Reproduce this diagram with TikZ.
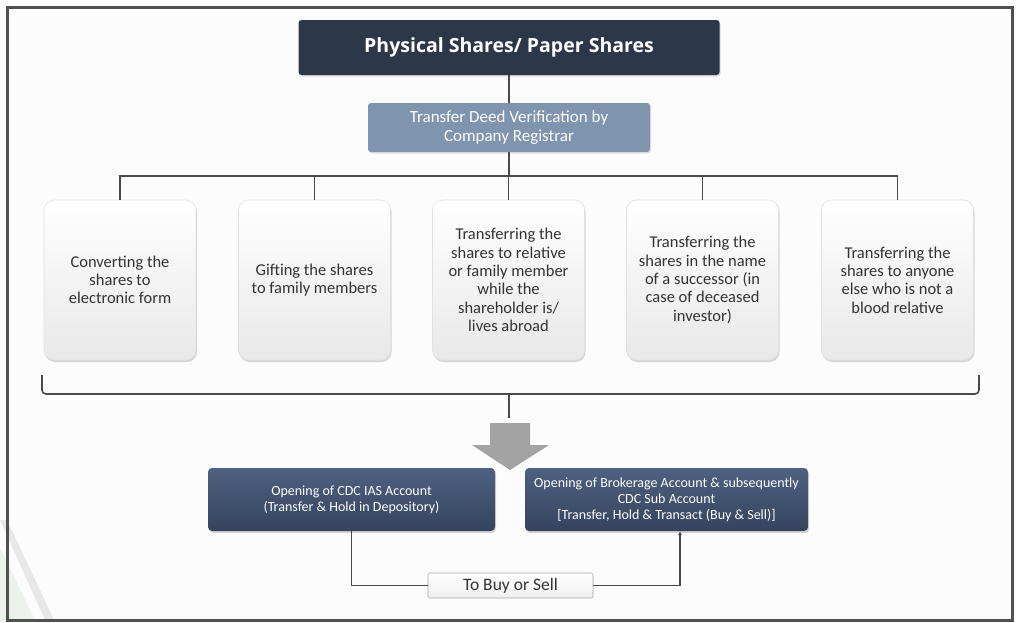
\documentclass[tikz,border=0pt]{standalone}
\usepackage{fontspec}
\setmainfont{Carlito}
\newfontfamily\titlefont{Open Sans}
\usetikzlibrary{shadows,calc,arrows.meta}
\definecolor{navy}{HTML}{2C3749}
\definecolor{verif}{HTML}{7F94AF}
\definecolor{btop}{HTML}{4E6180}
\definecolor{bbot}{HTML}{34445E}
\definecolor{txt}{HTML}{333333}
\definecolor{lineg}{HTML}{4A4A4A}
\definecolor{arrowg}{HTML}{A3A3A3}
\definecolor{frameg}{HTML}{505050}
\tikzset{
  titlebox/.style={rectangle, rounded corners=3pt, fill=navy, text=white,
    minimum width=421pt, minimum height=55pt, font=\titlefont\bfseries\fontsize{19.5}{22}\selectfont,
    drop shadow={opacity=0.25, shadow xshift=1pt, shadow yshift=-1.5pt}},
  verifbox/.style={rectangle, rounded corners=3pt, fill=verif, text=white,
    minimum width=282pt, minimum height=49pt, align=center, inner sep=1pt,
    font=\fontsize{17}{18.5}\selectfont,
    drop shadow={opacity=0.2, shadow xshift=1pt, shadow yshift=-1.5pt}},
  optbox/.style={rectangle, rounded corners=10pt, top color=white, bottom color=black!9,
    draw=black!12, line width=0.6pt, text=txt, minimum width=152pt, minimum height=160pt,
    align=center, inner sep=2pt, font=\fontsize{16.5}{18.3}\selectfont,
    drop shadow={opacity=0.3, shadow xshift=1pt, shadow yshift=-2pt}},
  accbox/.style={rectangle, rounded corners=4pt, top color=btop, bottom color=bbot, text=white,
    minimum height=63pt, align=center, inner sep=1pt, font=\fontsize{14}{16}\selectfont,
    drop shadow={opacity=0.3, shadow xshift=1pt, shadow yshift=-2pt}},
  buybox/.style={rectangle, rounded corners=1.5pt, top color=white, bottom color=black!6,
    draw=black!35, line width=0.6pt, text=txt, minimum width=165pt, minimum height=25pt,
    inner sep=0pt, font=\fontsize{17.5}{18}\selectfont},
  conn/.style={draw=lineg, line width=1.6pt},
  thinconn/.style={draw=lineg, line width=1.2pt},
}
\begin{document}
\begin{tikzpicture}[x=1pt,y=-1pt]
\useasboundingbox (0,0) rectangle (1016,622);
\fill[white!99!black] (0,0) rectangle (1016,622);
% decorative corner stripes
\fill[green!30!black!8!white] (0,548) -- (36,622) -- (0,622) -- cycle;
\fill[black!9] (0,520) -- (7,520) -- (55,622) -- (46,622) -- cycle;
% frame
\draw[frameg, line width=3pt] (7,7) rectangle (1012,620);

\node[titlebox] (title) at (509,47.5) {Physical Shares/ Paper Shares};
\node[verifbox] (verif) at (509,127.5) {Transfer Deed Verification by\\Company Registrar};

\node[optbox] (b1) at (120,280) {Converting the\\shares to\\electronic form};
\node[optbox] (b2) at (314.5,280) {Gifting the shares\\to family members};
\node[optbox] (b3) at (508.5,280) {Transferring the\\shares to relative\\or family member\\while the\\shareholder is/\\lives abroad};
\node[optbox] (b4) at (702.5,280) {Transferring the\\shares in the name\\of a successor (in\\case of deceased\\investor)};
\node[optbox] (b5) at (897.5,280) {Transferring the\\shares to anyone\\else who is not a\\blood relative};

\node[accbox, minimum width=287pt] (acc1) at (351.5,499.5) {Opening of CDC IAS Account\\(Transfer \& Hold in Depository)};
\node[accbox, minimum width=283pt] (acc2) at (666.5,499.5) {Opening of Brokerage Account \& subsequently\\CDC Sub Account\\{[Transfer, Hold \& Transact (Buy \& Sell)]}};
\node[buybox] (buy) at (510.5,585.5) {To Buy or Sell};

% connectors
\draw[thinconn] (title.south) -- (verif.north);
\coordinate (bus) at (509,176);
\draw[conn] (verif.south) -- (bus);
\draw[conn] (b1.north) |- (bus);
\draw[conn] (b5.north) |- (bus);
\draw[conn] (b2.north) -- (b2.north |- bus);
\draw[conn] (b4.north) -- (b4.north |- bus);
\draw[conn] (b3.north) -- (b3.north |- bus);

% brace
\coordinate (brL) at (42,375);
\coordinate (brR) at (979,375);
\coordinate (brM) at (509,394);
\coordinate (brS) at (509,418);
\draw[conn, rounded corners=4pt] (brL) |- (brM) -| (brR);
\draw[conn] (brM) -- (brS);

% big arrow
\fill[arrowg] (490,423) -- (530,423) -- (530,445) -- (549,445) -- (510,470) -- (472,445) -- (490,445) -- cycle;

% bottom loop
\coordinate (acc2in) at (680,531);
\draw[thinconn] (acc1.south) |- (buy.west);
\draw[thinconn, -{Latex[length=4pt,width=4pt]}] (buy.east) -| (acc2in);
\end{tikzpicture}
\end{document}
